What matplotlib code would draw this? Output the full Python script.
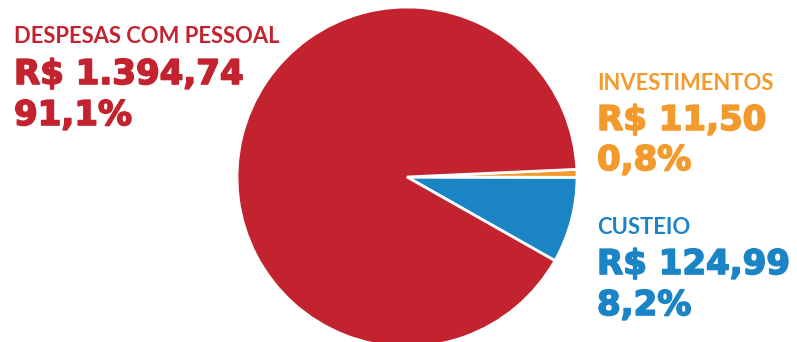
import matplotlib
matplotlib.use('Agg')
import matplotlib.pyplot as plt
import matplotlib.patheffects as pe

# %% Data
labels = ['CUSTEIO', 'INVESTIMENTOS', 'DESPESAS COM PESSOAL']
values = [124.99, 11.50, 1394.74]
amounts = ['R$ 124,99', 'R$ 11,50', 'R$ 1.394,74']
shares = ['8,2%', '0,8%', '91,1%']
colors = ['#1B84C4', '#F39A2C', '#C2232F']

W, H = 797, 342
fig = plt.figure(figsize=(W / 100, H / 100), dpi=100)

# %% Pie
cx, cy, r = 407, 177, 170
ax = fig.add_axes([(cx - r) / W, (H - cy - r) / H, 2 * r / W, 2 * r / H])
ax.pie(values, colors=colors, startangle=-29.5, counterclock=True,
       radius=1, wedgeprops=dict(edgecolor='white', linewidth=2))
ax.set_xlim(-1, 1)
ax.set_ylim(-1, 1)
ax.axis('off')

# %% Labels (baselines in pixels from top)
def label_block(x, i, b_cat, b_amt, b_pct):
    c = colors[i]
    heavy = [pe.withStroke(linewidth=1.2, foreground=c)]
    fig.text(x / W, 1 - b_cat / H, labels[i], color=c, fontsize=15.8,
             family='Lato', weight='bold', va='baseline')
    fig.text(x / W, 1 - b_amt / H, amounts[i], color=c, fontsize=24.5,
             family='DejaVu Sans', weight='bold', va='baseline',
             path_effects=heavy)
    fig.text(x / W, 1 - b_pct / H, shares[i], color=c, fontsize=24.5,
             family='DejaVu Sans', weight='bold', va='baseline',
             path_effects=heavy)

label_block(14, 2, 43, 84, 125)
label_block(597, 1, 90, 130, 170)
label_block(597, 0, 234, 274, 315)

fig.savefig('out.png', dpi=100)
